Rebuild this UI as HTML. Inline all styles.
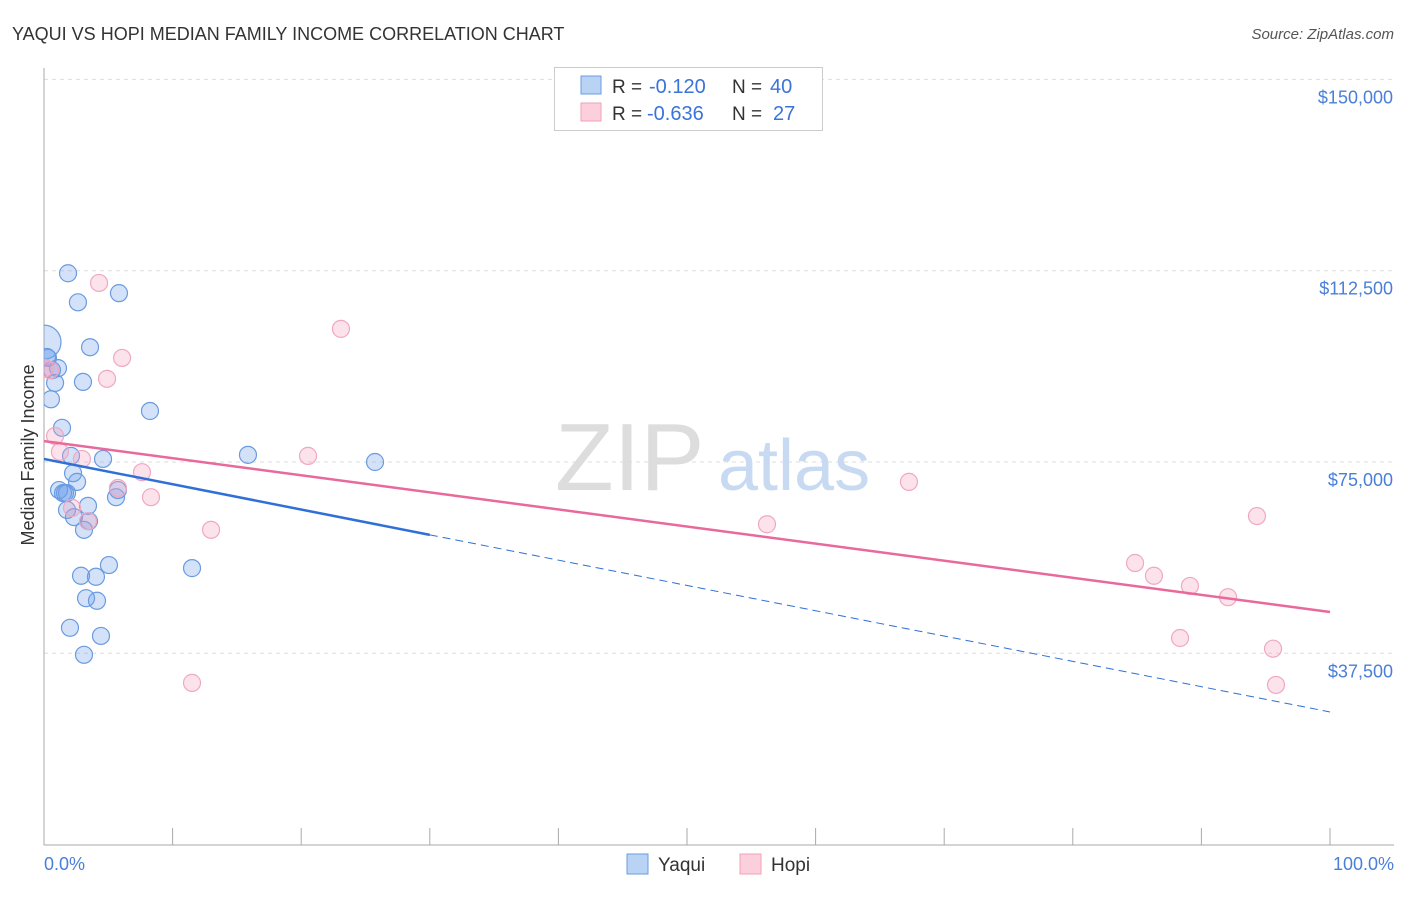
<!DOCTYPE html>
<html><head><meta charset="utf-8"><style>
body{margin:0;background:#fff;font-family:"Liberation Sans",sans-serif}
svg text{font-family:"Liberation Sans",sans-serif}
</style></head><body>
<svg id="chart" width="1406" height="892">
<defs><clipPath id="plotclip"><rect x="44" y="60" width="1360" height="785"/></clipPath></defs>
<text x="12" y="40" font-size="18" fill="#333">YAQUI VS HOPI MEDIAN FAMILY INCOME CORRELATION CHART</text>
<text x="1394" y="39" font-size="15" fill="#555" font-style="italic" text-anchor="end">Source: ZipAtlas.com</text>
<g id="grid"></g>
<text x="555" y="490" font-size="96" fill="#ddd" font-family="Liberation Serif">ZIP</text>
<text x="718" y="490" font-size="72" fill="#c8daf2">atlas</text>
<g id="marks" clip-path="url(#plotclip)"></g>
<text transform="translate(34,455) rotate(-90)" font-size="18" fill="#333" text-anchor="middle">Median Family Income</text>
<text x="44" y="870" font-size="18" fill="#4a7fd9">0.0%</text>
<text x="1394" y="870" font-size="18" fill="#4a7fd9" text-anchor="end">100.0%</text>
<g>
<rect x="554.5" y="67.5" width="268" height="63" fill="#fff" stroke="#ccc"/>
<rect x="581" y="76" width="20" height="18" fill="#b9d3f5" stroke="#6a9be0"/>
<rect x="581" y="103" width="20" height="18" fill="#fbd0dc" stroke="#f0a0b8"/>
<text x="612" y="93" font-size="19" fill="#333">R =</text>
<text x="649" y="93" font-size="20" fill="#3a73d9">-0.120</text>
<text x="732" y="93" font-size="19" fill="#333">N =</text>
<text x="770" y="93" font-size="20" fill="#3a73d9">40</text>
<text x="612" y="120" font-size="19" fill="#333">R =</text>
<text x="647" y="120" font-size="20" fill="#3a73d9">-0.636</text>
<text x="732" y="120" font-size="19" fill="#333">N =</text>
<text x="773" y="120" font-size="20" fill="#3a73d9">27</text>
</g>
<g>
<rect x="627" y="854" width="21" height="20" fill="#b9d3f5" stroke="#6a9be0"/>
<text x="658" y="871" font-size="19" fill="#333">Yaqui</text>
<rect x="740" y="854" width="21" height="20" fill="#fbd0dc" stroke="#f0a0b8"/>
<text x="771" y="871" font-size="19" fill="#333">Hopi</text>
</g>
</svg>
<script>
const yTicks=[37500,75000,112500,150000];
const yTickLabels=["$37,500","$75,000","$112,500","$150,000"];
const yaquiX=[1.87,2.64,5.83,3.58,0.0,0.31,0.62,3.03,0.86,0.54,8.24,1.40,2.10,4.59,15.86,25.74,2.26,2.57,1.17,1.48,1.79,3.42,5.60,5.75,1.79,2.33,3.50,3.11,11.51,5.05,2.88,4.04,3.27,4.12,2.02,4.43,3.11,0.23,1.09,1.63];
const yaquiY=[112.0,106.3,108.1,97.5,98.5,95.4,93.0,90.7,90.5,87.3,85.0,81.7,76.2,75.6,76.4,75.0,72.8,71.1,69.5,68.9,68.9,66.4,68.1,69.5,65.6,64.2,63.4,61.7,54.2,54.8,52.7,52.5,48.3,47.8,42.5,40.9,37.2,95.6,93.4,68.9];
const hopiX=[4.28,23.09,6.07,4.90,0.47,0.86,1.24,2.95,7.62,5.75,8.32,2.18,3.42,12.99,20.53,67.26,56.22,94.32,84.84,86.31,89.11,92.07,88.34,95.57,95.80,11.51,0.08];
const hopiY=[110.1,101.1,95.4,91.3,93.0,80.1,77.0,75.6,73.0,69.9,68.1,66.0,63.4,61.7,76.2,71.1,62.8,64.4,55.2,52.7,50.7,48.5,40.5,38.4,31.3,31.7,93.4];
const yaquiTrend=[75.6,26.0];
const hopiTrend=[79.1,45.6];
const NS="http://www.w3.org/2000/svg";
const sx=p=>44+p*12.86;
const sy=v=>462-(v-75000)*191.3/37500;
const syk=k=>sy(k*1000);
function mk(tag,attrs,parent){const e=document.createElementNS(NS,tag);for(const k in attrs)e.setAttribute(k,attrs[k]);parent.appendChild(e);return e;}
const grid=document.getElementById('grid');
const marks=document.getElementById('marks');
yTicks.forEach((t,i)=>{
 const l=mk('line',{x1:44,x2:1394,y1:sy(t),y2:sy(t),stroke:'#ddd','stroke-dasharray':'4,4'},grid);
 
 
 const tx=mk('text',{x:1393,y:sy(t)+24,'font-size':18,fill:'#4a7fd9','text-anchor':'end'},grid);
 tx.textContent=yTickLabels[i];
 
 
});
const ax=mk('line',{x1:44,x2:44,y1:68,y2:845,stroke:'#aaa'},grid);


const bx=mk('line',{x1:44,x2:1394,y1:845,y2:845,stroke:'#aaa'},grid);


for(let i=1;i<=10;i++){
 const t=mk('line',{x1:sx(i*10),x2:sx(i*10),y1:828,y2:845,stroke:'#aaa'},grid);
 
 
}
yaquiX.forEach((x,i)=>{
 const c=mk('circle',{cx:sx(x),cy:syk(yaquiY[i]),r:i==4?17:8.5,fill:'rgba(110,160,235,0.3)',stroke:'#6a9be0','stroke-width':1.2},marks);
 
 
});
hopiX.forEach((x,i)=>{
 const c=mk('circle',{cx:sx(x),cy:syk(hopiY[i]),r:8.5,fill:'rgba(245,160,190,0.3)',stroke:'#f0a8c0','stroke-width':1.2},marks);
 
 
});
const yv=p=>yaquiTrend[0]+(yaquiTrend[1]-yaquiTrend[0])*p/100;
const ys=mk('line',{x1:sx(0),y1:syk(yv(0)),x2:sx(30),y2:syk(yv(30)),stroke:'#2f6fd6','stroke-width':2.5},marks);


const yd=mk('line',{x1:sx(30),y1:syk(yv(30)),x2:sx(100),y2:syk(yv(100)),stroke:'#2f6fd6','stroke-width':1,'stroke-dasharray':'8,5'},marks);


const hl=mk('line',{x1:sx(0),y1:syk(hopiTrend[0]),x2:sx(100),y2:syk(hopiTrend[1]),stroke:'#e8699a','stroke-width':2.5},marks);


</script>
</body></html>
